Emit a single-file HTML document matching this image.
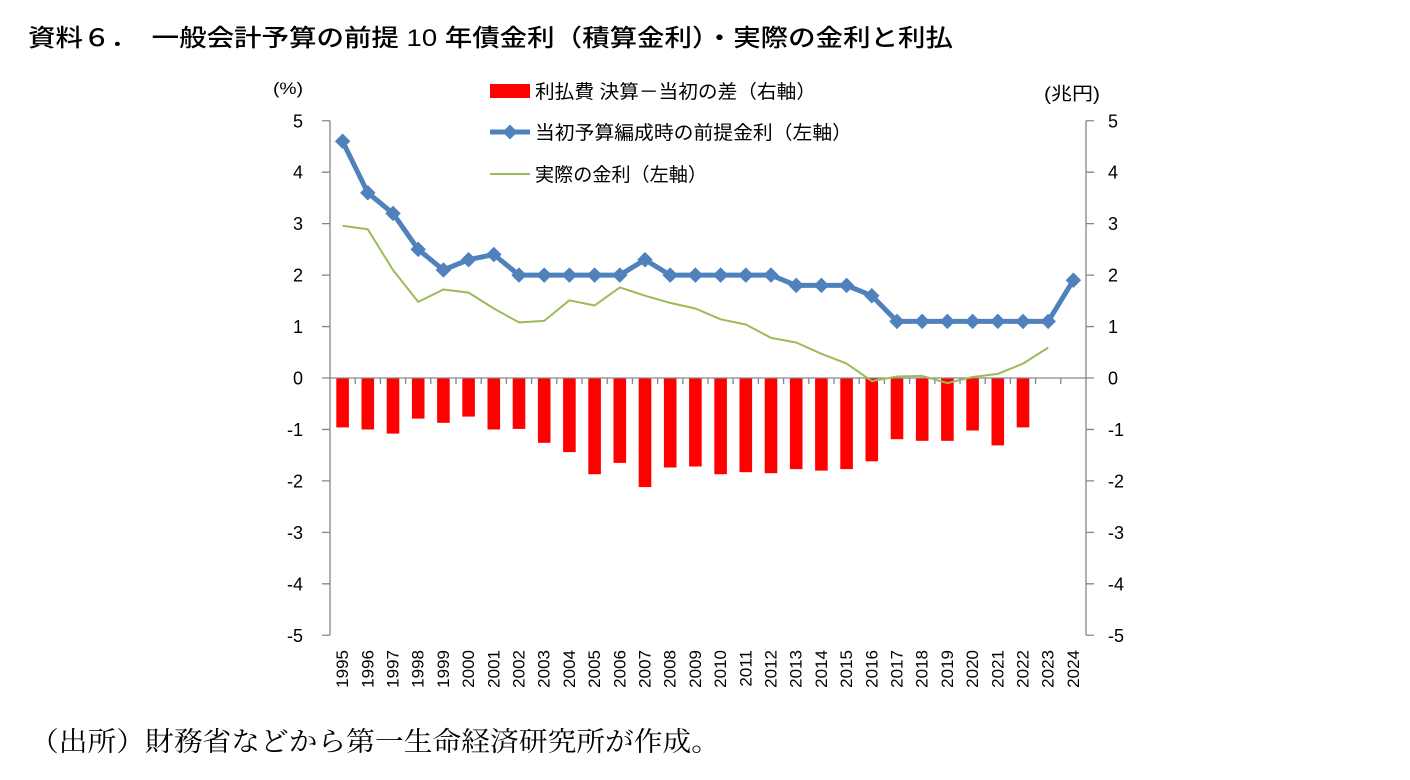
<!DOCTYPE html>
<html>
<head>
<meta charset="utf-8">
<style>
  html, body { margin:0; padding:0; background:#ffffff; }
  body { width:1410px; height:780px; overflow:hidden; }
  svg { display:block; }
  .lat { font-family:"Liberation Sans", Arial, sans-serif; }
  .jp { font-family:"Liberation Sans", "Noto Sans CJK JP", "Noto Sans CJK SC", sans-serif; }
  .mincho { font-family:"Liberation Serif", "Noto Serif CJK JP", "Noto Serif CJK SC", serif; }
</style>
</head>
<body>
<svg width="1410" height="780" viewBox="0 0 1410 780" xmlns="http://www.w3.org/2000/svg">
  <defs>
    <marker id="dia" viewBox="-8 -8 16 16" markerWidth="16" markerHeight="16" refX="0" refY="0" markerUnits="userSpaceOnUse" orient="0">
      <path d="M0,-7.5 L7.5,0 L0,7.5 L-7.5,0 Z" fill="#4F81BD" stroke="#4F81BD" stroke-width="0.5"/>
    </marker>
  </defs>
  <rect width="1410" height="780" fill="#ffffff"/>

  <!-- Title -->
  <text class="jp" x="28" y="46" font-size="24" font-weight="500" fill="#000" textLength="925" lengthAdjust="spacingAndGlyphs">資料６．　一般会計予算の前提 10 年債金利（積算金利）・実際の金利と利払</text>

  <!-- Axis unit labels -->
  <text class="lat" x="273" y="94" font-size="17" fill="#000" textLength="30" lengthAdjust="spacingAndGlyphs">(%)</text>
  <text class="jp" x="1044" y="100" font-size="18" fill="#000" textLength="56" lengthAdjust="spacingAndGlyphs">(兆円)</text>

  <!-- Bars (right axis) -->
  <g fill="#FF0000">
    <rect x="336.3" y="378" width="12.6" height="49.4"/>
    <rect x="361.5" y="378" width="12.6" height="51.5"/>
    <rect x="386.7" y="378" width="12.6" height="55.6"/>
    <rect x="411.9" y="378" width="12.6" height="40.6"/>
    <rect x="437.1" y="378" width="12.6" height="44.8"/>
    <rect x="462.3" y="378" width="12.6" height="38.6"/>
    <rect x="487.5" y="378" width="12.6" height="51.5"/>
    <rect x="512.7" y="378" width="12.6" height="50.9"/>
    <rect x="537.9" y="378" width="12.6" height="64.8"/>
    <rect x="563.1" y="378" width="12.6" height="74.1"/>
    <rect x="588.3" y="378" width="12.6" height="96.2"/>
    <rect x="613.5" y="378" width="12.6" height="84.9"/>
    <rect x="638.7" y="378" width="12.6" height="109.1"/>
    <rect x="663.9" y="378" width="12.6" height="89.5"/>
    <rect x="689.1" y="378" width="12.6" height="88.5"/>
    <rect x="714.3" y="378" width="12.6" height="96.2"/>
    <rect x="739.5" y="378" width="12.6" height="94.2"/>
    <rect x="764.7" y="378" width="12.6" height="95.2"/>
    <rect x="789.9" y="378" width="12.6" height="91.1"/>
    <rect x="815.1" y="378" width="12.6" height="92.6"/>
    <rect x="840.3" y="378" width="12.6" height="91.1"/>
    <rect x="865.5" y="378" width="12.6" height="83.3"/>
    <rect x="890.7" y="378" width="12.6" height="61.2"/>
    <rect x="915.9" y="378" width="12.6" height="62.8"/>
    <rect x="941.1" y="378" width="12.6" height="62.8"/>
    <rect x="966.3" y="378" width="12.6" height="52.5"/>
    <rect x="991.5" y="378" width="12.6" height="67.4"/>
    <rect x="1016.7" y="378" width="12.6" height="49.4"/>
  </g>

  <!-- Axes -->
  <g stroke="#868686" stroke-width="1.3" fill="none">
    <line x1="330" y1="120.75" x2="330" y2="635.25"/>
    <line x1="1086" y1="120.75" x2="1086" y2="635.25"/>
    <line x1="322" y1="378" x2="1094" y2="378"/>
    <path d="M322,120.75H330 M322,172.2H330 M322,223.65H330 M322,275.1H330 M322,326.55H330 M322,429.45H330 M322,480.9H330 M322,532.35H330 M322,583.8H330 M322,635.25H330"/>
    <path d="M1086,120.75H1094 M1086,172.2H1094 M1086,223.65H1094 M1086,275.1H1094 M1086,326.55H1094 M1086,429.45H1094 M1086,480.9H1094 M1086,532.35H1094 M1086,583.8H1094 M1086,635.25H1094"/>
    <path d="M355.2,378V384 M380.4,378V384 M405.6,378V384 M430.8,378V384 M456,378V384 M481.2,378V384 M506.4,378V384 M531.6,378V384 M556.8,378V384 M582,378V384 M607.2,378V384 M632.4,378V384 M657.6,378V384 M682.8,378V384 M708,378V384 M733.2,378V384 M758.4,378V384 M783.6,378V384 M808.8,378V384 M834,378V384 M859.2,378V384 M884.4,378V384 M909.6,378V384 M934.8,378V384 M960,378V384 M985.2,378V384 M1010.4,378V384 M1035.6,378V384 M1060.8,378V384"/>
  </g>

  <!-- Green line: actual rate -->
  <polyline fill="none" stroke="#9BBB59" stroke-width="2" stroke-linejoin="round"
    points="342.6,225.7 367.8,229.3 393,270 418.2,301.9 443.4,289.5 468.6,292.6 493.8,308.5 519,322.4 544.2,320.9 569.4,300.3 594.6,305.5 619.8,287.4 645,295.7 670.2,302.9 695.4,308.5 720.6,319.3 745.8,324.5 771,337.9 796.2,342.5 821.4,353.8 846.6,363.6 871.8,381.1 897,376.5 922.2,375.9 947.4,383.1 972.6,377 997.8,373.9 1023,363.6 1048.2,347.6"/>

  <!-- Blue line: assumed rate -->
  <polyline fill="none" stroke="#4F81BD" stroke-width="5" stroke-linejoin="round"
    marker-start="url(#dia)" marker-mid="url(#dia)" marker-end="url(#dia)"
    points="342.6,141.3 367.8,192.8 393,213.4 418.2,249.4 443.4,270 468.6,259.7 493.8,254.5 519,275.1 544.2,275.1 569.4,275.1 594.6,275.1 619.8,275.1 645,259.7 670.2,275.1 695.4,275.1 720.6,275.1 745.8,275.1 771,275.1 796.2,285.4 821.4,285.4 846.6,285.4 871.8,295.7 897,321.4 922.2,321.4 947.4,321.4 972.6,321.4 997.8,321.4 1023,321.4 1048.2,321.4 1073.4,280.2"/>

  <!-- Left axis labels -->
  <g class="lat" font-size="18" fill="#000" text-anchor="end">
    <text x="303" y="127.25">5</text>
    <text x="303" y="178.7">4</text>
    <text x="303" y="230.15">3</text>
    <text x="303" y="281.6">2</text>
    <text x="303" y="333.05">1</text>
    <text x="303" y="384.5">0</text>
    <text x="303" y="435.95">-1</text>
    <text x="303" y="487.4">-2</text>
    <text x="303" y="538.85">-3</text>
    <text x="303" y="590.3">-4</text>
    <text x="303" y="641.75">-5</text>
  </g>
  <!-- Right axis labels -->
  <g class="lat" font-size="18" fill="#000" text-anchor="start">
    <text x="1108" y="127.25">5</text>
    <text x="1108" y="178.7">4</text>
    <text x="1108" y="230.15">3</text>
    <text x="1108" y="281.6">2</text>
    <text x="1108" y="333.05">1</text>
    <text x="1108" y="384.5">0</text>
    <text x="1108" y="435.95">-1</text>
    <text x="1108" y="487.4">-2</text>
    <text x="1108" y="538.85">-3</text>
    <text x="1108" y="590.3">-4</text>
    <text x="1108" y="641.75">-5</text>
  </g>

  <!-- X labels -->
  <g class="lat" font-size="17" fill="#000" text-anchor="end">
    <text transform="translate(342.6,650) rotate(-90)" y="5.5">1995</text>
    <text transform="translate(367.8,650) rotate(-90)" y="5.5">1996</text>
    <text transform="translate(393,650) rotate(-90)" y="5.5">1997</text>
    <text transform="translate(418.2,650) rotate(-90)" y="5.5">1998</text>
    <text transform="translate(443.4,650) rotate(-90)" y="5.5">1999</text>
    <text transform="translate(468.6,650) rotate(-90)" y="5.5">2000</text>
    <text transform="translate(493.8,650) rotate(-90)" y="5.5">2001</text>
    <text transform="translate(519,650) rotate(-90)" y="5.5">2002</text>
    <text transform="translate(544.2,650) rotate(-90)" y="5.5">2003</text>
    <text transform="translate(569.4,650) rotate(-90)" y="5.5">2004</text>
    <text transform="translate(594.6,650) rotate(-90)" y="5.5">2005</text>
    <text transform="translate(619.8,650) rotate(-90)" y="5.5">2006</text>
    <text transform="translate(645,650) rotate(-90)" y="5.5">2007</text>
    <text transform="translate(670.2,650) rotate(-90)" y="5.5">2008</text>
    <text transform="translate(695.4,650) rotate(-90)" y="5.5">2009</text>
    <text transform="translate(720.6,650) rotate(-90)" y="5.5">2010</text>
    <text transform="translate(745.8,650) rotate(-90)" y="5.5">2011</text>
    <text transform="translate(771,650) rotate(-90)" y="5.5">2012</text>
    <text transform="translate(796.2,650) rotate(-90)" y="5.5">2013</text>
    <text transform="translate(821.4,650) rotate(-90)" y="5.5">2014</text>
    <text transform="translate(846.6,650) rotate(-90)" y="5.5">2015</text>
    <text transform="translate(871.8,650) rotate(-90)" y="5.5">2016</text>
    <text transform="translate(897,650) rotate(-90)" y="5.5">2017</text>
    <text transform="translate(922.2,650) rotate(-90)" y="5.5">2018</text>
    <text transform="translate(947.4,650) rotate(-90)" y="5.5">2019</text>
    <text transform="translate(972.6,650) rotate(-90)" y="5.5">2020</text>
    <text transform="translate(997.8,650) rotate(-90)" y="5.5">2021</text>
    <text transform="translate(1023,650) rotate(-90)" y="5.5">2022</text>
    <text transform="translate(1048.2,650) rotate(-90)" y="5.5">2023</text>
    <text transform="translate(1073.4,650) rotate(-90)" y="5.5">2024</text>
  </g>

  <!-- Legend -->
  <rect x="490" y="84" width="40" height="14" fill="#FF0000"/>
  <text class="jp" x="535" y="98" font-size="19" fill="#000" textLength="281" lengthAdjust="spacingAndGlyphs">利払費 決算－当初の差（右軸）</text>

  <line x1="490" y1="132" x2="530" y2="132" stroke="#4F81BD" stroke-width="5"/>
  <path d="M510,124.5 L517.5,132 L510,139.5 L502.5,132 Z" fill="#4F81BD"/>
  <text class="jp" x="535" y="139" font-size="19" fill="#000" textLength="317" lengthAdjust="spacingAndGlyphs">当初予算編成時の前提金利（左軸）</text>

  <line x1="490" y1="174" x2="530" y2="174" stroke="#9BBB59" stroke-width="2"/>
  <text class="jp" x="535" y="181" font-size="19" fill="#000" textLength="172" lengthAdjust="spacingAndGlyphs">実際の金利（左軸）</text>

  <!-- Footer -->
  <text class="mincho" x="30" y="751" font-size="27" fill="#000" textLength="690" lengthAdjust="spacingAndGlyphs">（出所）財務省などから第一生命経済研究所が作成。</text>
</svg>
</body>
</html>
